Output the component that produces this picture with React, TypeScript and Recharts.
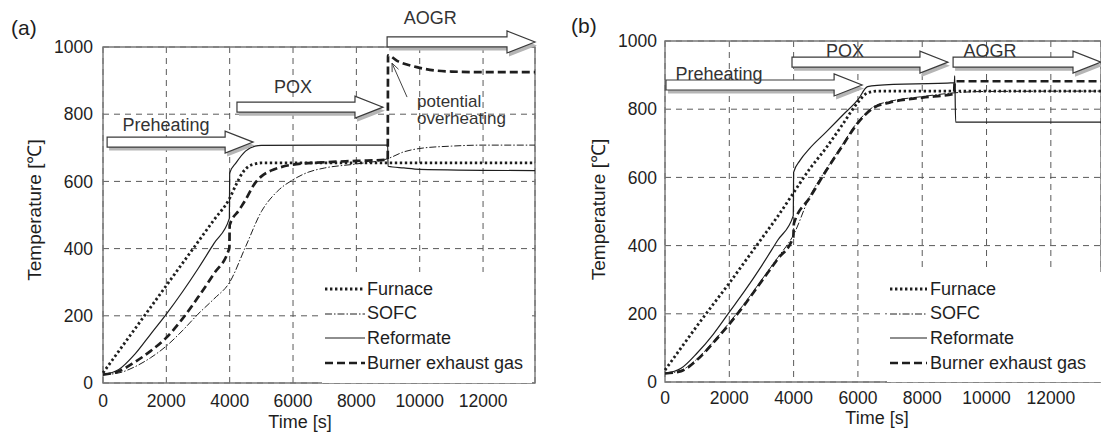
import React from 'react';
import {
  LineChart,
  Line,
  XAxis,
  YAxis,
  CartesianGrid,
  ReferenceLine,
  ReferenceDot,
  ReferenceArea,
  Legend,
} from 'recharts';

const FONT = '"Liberation Sans", Arial, Helvetica, sans-serif';
const INK = '#1e1e1e';

const timeTicks = [0, 2000, 4000, 6000, 8000, 10000, 12000];
const tempTicks = [0, 200, 400, 600, 800, 1000];
const seriesNames = ['Furnace', 'SOFC', 'Reformate', 'Burner exhaust gas'];

// panel (a): [time s, temperature C]
const aFurnace = [
  [0, 30], [500, 95], [1000, 160], [1500, 225], [2000, 290], [2500, 355], [3000, 420],
  [3500, 485], [4000, 550], [4200, 590], [4400, 625], [4600, 645], [4800, 652], [5000, 655],
  [7000, 655], [9000, 655], [11000, 655], [13640, 655],
];
const aSofc = [
  [0, 25], [500, 30], [1000, 48], [1500, 75], [2000, 110], [2500, 155], [3000, 205],
  [3500, 250], [4000, 300], [4500, 405], [5000, 510], [5500, 570], [6000, 605], [6500, 628],
  [7000, 640], [8000, 652], [9000, 668], [9500, 688], [10000, 698], [11000, 705],
  [12000, 708], [13640, 708],
];
const aReformate = [
  [0, 25], [500, 40], [1000, 85], [1500, 145], [2000, 205], [2500, 270], [3000, 340],
  [3500, 415], [3990, 490], [4000, 625], [4200, 655], [4500, 690], [4800, 705], [5000, 707],
  [7000, 708], [8990, 708], [9000, 645], [9500, 640], [10000, 636], [13640, 632],
];
const aBurner = [
  [0, 25], [500, 35], [1000, 62], [1500, 95], [2000, 135], [2500, 190], [3000, 255],
  [3500, 325], [3990, 402], [4000, 470], [4300, 515], [4500, 545], [4800, 595], [5000, 615],
  [5300, 632], [5600, 642], [6000, 650], [7000, 657], [8000, 661], [8990, 665], [9000, 975],
  [9300, 958], [9700, 945], [10000, 938], [10500, 930], [11000, 927], [12000, 925], [13640, 925],
];

// panel (b)
const bFurnace = [
  [0, 35], [500, 100], [1000, 165], [1500, 228], [2000, 290], [2500, 355], [3000, 420],
  [3500, 485], [4000, 555], [4500, 625], [5000, 685], [5500, 752], [6000, 820], [6300, 848],
  [6600, 853], [9000, 853], [13560, 853],
];
const bSofc = [
  [0, 25], [500, 34], [1000, 68], [1500, 118], [2000, 174], [2500, 234], [3000, 299],
  [3500, 364], [4000, 432], [4500, 544], [5000, 622], [5500, 694], [6000, 764], [6500, 808],
  [7000, 823], [8000, 837], [9000, 848], [10000, 852], [13560, 853],
];
const bReformate = [
  [0, 25], [500, 40], [1000, 85], [1500, 140], [2000, 205], [2500, 270], [3000, 340],
  [3500, 415], [3990, 488], [4000, 615], [4200, 650], [4500, 685], [5000, 732], [5500, 780],
  [6000, 828], [6300, 866], [6600, 870], [9000, 878], [9010, 898], [9040, 762], [13560, 762],
];
const bBurner = [
  [0, 25], [500, 32], [1000, 65], [1500, 115], [2000, 170], [2500, 230], [3000, 295],
  [3500, 360], [3990, 425], [4010, 465], [4500, 540], [5000, 618], [5500, 690], [6000, 760],
  [6500, 805], [7000, 820], [8000, 834], [8990, 845], [9010, 882], [13560, 882],
];

// operating phases: label, arrow start / end time, arrow level, label anchor
const aPhases = [
  { label: 'Preheating', start: 130, end: 4740, level: 717, textT: 1990, textV: 768 },
  { label: 'POX', start: 4230, end: 8840, level: 821, textT: 6000, textV: 881 },
  { label: 'AOGR', start: 8970, end: 13640, level: 1015, textT: 10330, textV: 1089 },
];
const bPhases = [
  { label: 'Preheating', start: 30, end: 6130, level: 871, textT: 1680, textV: 906 },
  { label: 'POX', start: 3950, end: 8800, level: 938, textT: 5600, textV: 973 },
  { label: 'AOGR', start: 8960, end: 13560, level: 938, textT: 10110, textV: 971 },
];
const aNote = { lines: ['potential', 'overheating'], t: 9915, v: 820, fromT: 9600, fromV: 851, toT: 9125, toV: 952 };

const lineStyles: Record<string, { width: number; dash?: string }> = {
  Furnace: { width: 2.8, dash: '2.4 2.6' },
  SOFC: { width: 1, dash: '7 2 1.5 2' },
  Reformate: { width: 1.2 },
  'Burner exhaust gas': { width: 2.7, dash: '8 4' },
};

const toPts = (rows: number[][]) => rows.map(([t, v]) => ({ t, v }));

function BlockArrow(props: any) {
  const { x1, y1, x2 } = props;
  if (![x1, y1, x2].every(Number.isFinite)) return null;
  const body = 5;
  const head = 11;
  const headLen = 28;
  const xh = x2 - headLen;
  const pts = [
    [x1, y1 - body], [xh, y1 - body], [xh, y1 - head], [x2, y1],
    [xh, y1 + head], [xh, y1 + body], [x1, y1 + body],
  ];
  const s = (dx: number, dy: number) => pts.map(([x, y]) => `${x + dx},${y + dy}`).join(' ');
  return (
    <g>
      <polygon points={s(2, 3.5)} fill="#b5b5b5" />
      <polygon points={s(0, 0)} fill="#fff" stroke="#3a3a3a" strokeWidth={1.2} />
    </g>
  );
}

function Pointer(props: any) {
  const { x1, y1, x2, y2 } = props;
  if (![x1, y1, x2, y2].every(Number.isFinite)) return null;
  const a = Math.atan2(y2 - y1, x2 - x1);
  const len = 9;
  const h1 = [x2 - len * Math.cos(a - 0.4), y2 - len * Math.sin(a - 0.4)];
  const h2 = [x2 - len * Math.cos(a + 0.4), y2 - len * Math.sin(a + 0.4)];
  return (
    <g stroke="#444" strokeWidth={1} fill="none">
      <line x1={x1} y1={y1} x2={x2} y2={y2} />
      <polyline points={`${h1[0]},${h1[1]} ${x2},${y2} ${h2[0]},${h2[1]}`} />
    </g>
  );
}

function LegendBox({ sample, gap }: { sample: number; gap: number }) {
  return (
    <div style={{ background: '#fff', width: '100%', height: '100%', paddingTop: 5, paddingLeft: 3, boxSizing: 'border-box' }}>
      {seriesNames.map((name) => {
        const st = lineStyles[name];
        return (
          <div key={name} style={{ display: 'flex', alignItems: 'center', height: 24.6 }}>
            <svg width={sample} height={10} style={{ display: 'block' }}>
              <line x1={0} x2={sample} y1={5} y2={5} stroke={INK} strokeWidth={st.width} strokeDasharray={st.dash} />
            </svg>
            <span style={{ marginLeft: gap, fontSize: 18, fontFamily: FONT, color: INK, whiteSpace: 'nowrap' }}>{name}</span>
          </div>
        );
      })}
    </div>
  );
}

interface PanelProps {
  left: number;
  width: number;
  axisWidth: number;
  top: number;
  axisHeight: number;
  right: number;
  maxT: number;
  series: number[][][];
  phases: typeof aPhases;
  yLabelOffset: number;
  yLabelDy: number;
  xLabelOffset: number;
  xLabelDx: number;
  xTickMargin: number;
  yTickMargin: number;
  legend: { left: number; top: number; width: number; height: number; sample: number; gap: number };
  note?: typeof aNote;
}

function Panel(p: PanelProps) {
  return (
    <div style={{ position: 'absolute', left: p.left, top: 0 }}>
      <LineChart width={p.width} height={437} margin={{ top: p.top, right: p.right, bottom: 0, left: 0 }}>
        <CartesianGrid stroke="#5a5a5a" strokeDasharray="6 5" strokeWidth={1} />
        <XAxis
          dataKey="t"
          type="number"
          domain={[0, p.maxT]}
          ticks={timeTicks}
          interval={0}
          axisLine={false}
          tickLine={false}
          tickSize={0}
          tickMargin={p.xTickMargin}
          height={p.axisHeight}
          tick={{ fill: INK, fontSize: 17.5, fontFamily: FONT }}
          label={{ value: 'Time [s]', position: 'insideBottom', offset: p.xLabelOffset, dx: p.xLabelDx, fill: INK, fontSize: 18, fontFamily: FONT }}
        />
        <YAxis
          type="number"
          domain={[0, 1000]}
          ticks={tempTicks}
          interval={0}
          axisLine={false}
          tickLine={false}
          tickSize={0}
          tickMargin={p.yTickMargin}
          width={p.axisWidth}
          tick={{ fill: INK, fontSize: 17.5, fontFamily: FONT }}
          label={{
            value: 'Temperature [℃]',
            angle: -90,
            position: 'insideLeft',
            offset: p.yLabelOffset,
            dy: p.yLabelDy,
            fill: INK,
            fontSize: 19,
            fontFamily: FONT,
            style: { textAnchor: 'middle' },
          }}
        />
        <ReferenceArea x1={0} x2={p.maxT} y1={0} y2={1000} fill="none" stroke="#777" strokeWidth={1.4} ifOverflow="visible" />
        {seriesNames.map((name, i) => (
          <Line
            key={name}
            name={name}
            data={toPts(p.series[i])}
            dataKey="v"
            type="monotone"
            stroke={INK}
            strokeWidth={lineStyles[name].width}
            strokeDasharray={lineStyles[name].dash}
            dot={false}
            activeDot={false}
            isAnimationActive={false}
          />
        ))}
        {p.phases.map((ph) => (
          <ReferenceLine
            key={`arrow-${ph.label}`}
            segment={[{ x: ph.start, y: ph.level }, { x: ph.end, y: ph.level }]}
            ifOverflow="visible"
            shape={BlockArrow}
          />
        ))}
        {p.phases.map((ph) => (
          <ReferenceDot
            key={`text-${ph.label}`}
            x={ph.textT}
            y={ph.textV}
            r={0}
            ifOverflow="visible"
            shape={(d: any) => (
              <text x={d.cx} y={d.cy} dy="0.36em" textAnchor="middle" fill="#333" fontSize={18} fontFamily={FONT}>
                {ph.label}
              </text>
            )}
          />
        ))}
        {p.note && (
          <ReferenceLine
            segment={[{ x: p.note.fromT, y: p.note.fromV }, { x: p.note.toT, y: p.note.toV }]}
            ifOverflow="visible"
            shape={Pointer}
          />
        )}
        {p.note && (
          <ReferenceDot
            x={p.note.t}
            y={p.note.v}
            r={0}
            ifOverflow="visible"
            shape={(d: any) => (
              <text x={d.cx} y={d.cy} fill="#333" fontSize={17} fontFamily={FONT}>
                {p.note!.lines.map((ln, k) => (
                  <tspan key={ln} x={d.cx} dy={k === 0 ? 0 : 17}>{ln}</tspan>
                ))}
              </text>
            )}
          />
        )}
        <Legend
          layout="vertical"
          align="center"
          verticalAlign="middle"
          wrapperStyle={{ left: p.legend.left, top: p.legend.top, width: p.legend.width, height: p.legend.height }}
          content={() => <LegendBox sample={p.legend.sample} gap={p.legend.gap} />}
        />
      </LineChart>
    </div>
  );
}

export default function App() {
  return (
    <div style={{ position: 'absolute', left: 0, top: 0, width: 1101, height: 437, background: '#fff', overflow: 'hidden' }}>
      <Panel
        left={0}
        width={550}
        axisWidth={103}
        top={47}
        axisHeight={54}
        right={15}
        maxT={13640}
        series={[aFurnace, aSofc, aReformate, aBurner]}
        phases={aPhases}
        yLabelOffset={34}
        yLabelDy={-5}
        xLabelOffset={9}
        xLabelDx={-19}
        xTickMargin={12}
        yTickMargin={10}
        legend={{ left: 322, top: 272, width: 210, height: 111, sample: 40, gap: 2 }}
        note={aNote}
      />
      <Panel
        left={550}
        width={551}
        axisWidth={115}
        top={41}
        axisHeight={55}
        right={0}
        maxT={13560}
        series={[bFurnace, bSofc, bReformate, bBurner]}
        phases={bPhases}
        yLabelOffset={48}
        yLabelDy={-2}
        xLabelOffset={13}
        xLabelDx={-6}
        xTickMargin={10}
        yTickMargin={8}
        legend={{ left: 337, top: 272, width: 214, height: 110, sample: 37, gap: 3 }}
      />
      <div style={{ position: 'absolute', left: 11, top: 16, fontSize: 21, fontFamily: FONT, color: INK }}>(a)</div>
      <div style={{ position: 'absolute', left: 571, top: 14, fontSize: 21, fontFamily: FONT, color: INK }}>(b)</div>
    </div>
  );
}
